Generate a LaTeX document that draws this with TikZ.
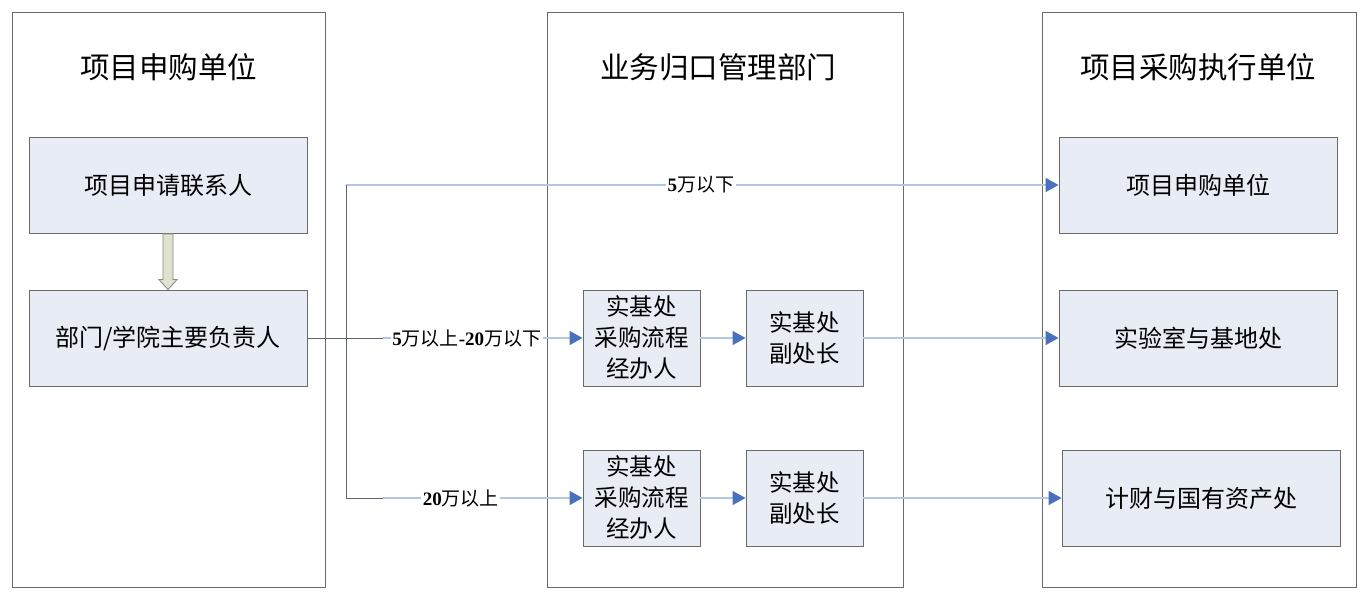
\documentclass[tikz,border=0pt]{standalone}
\usepackage{fontspec}
\setmainfont{Liberation Serif}
\newfontfamily\cjk{Noto Sans CJK SC}
\usetikzlibrary{calc,arrows.meta}
\definecolor{boxfill}{HTML}{E8ECF5}
\definecolor{boxline}{HTML}{6A6A6A}
\definecolor{conn}{HTML}{B4C6E2}
\definecolor{tip}{HTML}{4A72BC}
\definecolor{darkconn}{HTML}{5E6670}
\definecolor{blockfill}{HTML}{DFE2CC}
\definecolor{blockline}{HTML}{85887A}
\tikzset{
  col/.style={draw=boxline, line width=0.9pt, minimum width=#1, minimum height=575pt, inner sep=0pt},
  box/.style={draw=boxline, fill=boxfill, line width=0.9pt, minimum width=278pt, minimum height=96pt, font=\cjk\fontsize{24}{28}\selectfont, inner sep=0pt},
  sbox/.style={draw=boxline, fill=boxfill, line width=0.9pt, minimum width=117pt, minimum height=96pt, font=\cjk\fontsize{23.5}{31}\selectfont, align=center, inner sep=0pt},
  title/.style={font=\cjk\fontsize{29.5}{34}\selectfont},
  link/.style={draw=conn, line width=1.6pt},
  dlink/.style={draw=darkconn, line width=1pt},
  arr/.style={-{Triangle[length=13pt,width=14pt,fill=tip,color=tip]}},
  lbl/.style={fill=white, inner sep=1.5pt, font=\fontsize{19}{21}\selectfont},
}
\begin{document}
\begin{tikzpicture}[x=1pt,y=-1pt]
\useasboundingbox (0,0) rectangle (1368,596);
\fill[white] (0,0) rectangle (1368,596);
% columns
\node[col=313pt] (cL) at (168.5,299.5) {};
\node[col=356pt] (cM) at (725,299.5) {};
\node[col=314pt] (cR) at (1199,299.5) {};
\node[title] (tL) at (168.5,67) {项目申购单位};
\node[title] (tM) at (718,67) {业务归口管理部门};
\node[title] (tR) at (1198,67) {项目采购执行单位};
% left boxes
\node[box] (la) at (168,185) {项目申请联系人};
\node[box] (lb) at (168,338) {部门/学院主要负责人};
% middle boxes
\node[sbox] (m1) at (641.5,338) {实基处\\采购流程\\经办人};
\node[sbox] (m2) at (804.5,338) {实基处\\副处长};
\node[sbox] (m3) at (641.5,498) {实基处\\采购流程\\经办人};
\node[sbox] (m4) at (804.5,498) {实基处\\副处长};
% right boxes
\node[box] (r1) at (1198,185) {项目申购单位};
\node[box] (r2) at (1198,338) {实验室与基地处};
\node[box] (r3) at (1201,498) {计财与国有资产处};
% block arrow
\path (la.south) ++(0,0.5) coordinate (bs);
\path (lb.north) coordinate (be);
\filldraw[fill=blockfill, draw=blockline, line width=0.8pt]
  ($(bs)+(-5,0)$) -- ($(bs)+(5,0)$) -- ($(be)+(5,-10)$) -- ($(be)+(9,-10)$) -- (be)
  -- ($(be)+(-9,-10)$) -- ($(be)+(-5,-10)$) -- cycle;
% junction coordinates
\coordinate (jx) at (346,338);
\coordinate (gx) at (383,338);
\coordinate (jt) at (jx |- r1.west);
\coordinate (jb) at (jx |- m3.west);
\coordinate (gb) at (gx |- m3.west);
% connectors
\draw[link,arr] (jt) -- node[lbl, pos=0.498] {\textbf{5}{\cjk 万以下}} (r1.west);
\draw[link,arr] (gx) -- node[lbl, pos=0.42] {\textbf{5}{\cjk 万以上}\textbf{-20}{\cjk 万以下}} (m1.west);
\draw[link,arr] (gb) -- node[lbl, pos=0.39] {\textbf{20}{\cjk 万以上}} (m3.west);
\draw[dlink] (lb.east) -- (gx);
\draw[dlink] (jt) -- (jb) -- (gb);
\draw[link,arr] (m1.east) -- (m2.west);
\draw[link,arr] (m3.east) -- (m4.west);
\draw[link,arr] (m2.east) -- (r2.west);
\draw[link,arr] (m4.east) -- (r3.west);
\end{tikzpicture}
\end{document}
